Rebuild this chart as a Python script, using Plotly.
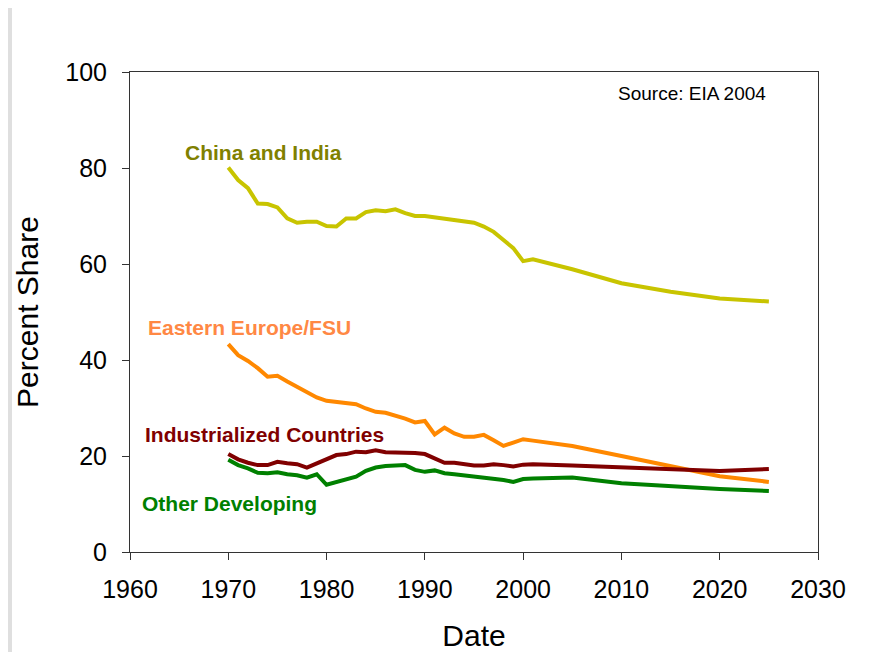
import plotly.graph_objects as go

# share of world coal consumption by region, history + projection
years = [1970, 1971, 1972, 1973, 1974, 1975, 1976, 1977, 1978, 1979,
         1980, 1981, 1982, 1983, 1984, 1985, 1986, 1987, 1988, 1989,
         1990, 1991, 1992, 1993, 1994, 1995, 1996, 1997, 1998, 1999,
         2000, 2001, 2005, 2010, 2015, 2020, 2025]

china_india = [80.1, 77.5, 75.8, 72.6, 72.5, 71.8, 69.5, 68.6, 68.8, 68.8,
               67.9, 67.8, 69.5, 69.5, 70.8, 71.2, 71.0, 71.4, 70.6, 70.0,
               70.0, 69.7, 69.5, 69.0, 68.8, 68.6, 67.8, 66.7, 65.0, 63.3,
               60.6, 61.0, 58.9, 56.0, 54.2, 52.8, 52.2]

eastern_europe = [43.3, 41.0, 39.8, 38.3, 36.5, 36.7, 35.5, 34.4, 33.1, 32.2,
                  31.5, 31.3, 31.1, 30.8, 29.9, 29.2, 29.0, 28.5, 27.8, 27.0,
                  27.3, 24.5, 25.9, 24.7, 24.0, 24.0, 24.4, 23.3, 22.1, 22.8,
                  23.5, 23.2, 22.1, 20.0, 17.8, 15.8, 14.6]

industrialized = [20.4, 19.3, 18.6, 18.1, 18.1, 18.8, 18.5, 18.3, 17.6, 18.5,
                  19.4, 20.2, 20.4, 20.9, 20.8, 21.2, 20.8, 20.8, 20.6, 20.6,
                  20.4, 19.5, 18.6, 18.6, 18.3, 18.0, 18.0, 18.3, 18.1, 17.8,
                  18.2, 18.3, 18.0, 17.6, 17.1, 16.9, 17.3]

other_developing = [19.2, 18.1, 17.4, 16.5, 16.4, 16.6, 16.2, 16.0, 15.5, 16.2,
                    14.0, 14.6, 15.2, 15.7, 16.9, 17.6, 17.9, 17.9, 18.1, 17.1,
                    16.7, 17.0, 16.4, 16.2, 16.0, 15.8, 15.5, 15.2, 15.0, 14.6,
                    15.2, 15.3, 15.5, 14.3, 13.6, 13.1, 12.7]

series = [
    ("China and India", china_india, "#C8C400", "#808000", 1965.4, 83.3),
    ("Eastern Europe/FSU", eastern_europe, "#FF8800", "#FF8844", 1961.6, 46.7),
    ("Industrialized Countries", industrialized, "#800000", "#800000", 1961.3, 24.4),
    ("Other Developing", other_developing, "#008000", "#008000", 1961.0, 10.2),
]

FONT = "Arial, Liberation Sans, sans-serif"

fig = go.Figure()
for name, vals, line_col, label_col, lx, ly in series:
    fig.add_trace(go.Scatter(x=years, y=vals, mode="lines", name=name,
                             line=dict(color=line_col, width=4)))
    fig.add_annotation(x=lx, y=ly, text="<b>%s</b>" % name, showarrow=False,
                       xanchor="left", yanchor="middle",
                       font=dict(family=FONT, size=21, color=label_col))

fig.add_annotation(x=2009.4, y=95.6, text="Source: EIA 2004", showarrow=False,
                   xanchor="left", yanchor="middle",
                   font=dict(family=FONT, size=19, color="black"))

# grey strip at the left edge of the slide (page has an 8px body margin)
fig.add_shape(type="rect", xref="paper", yref="paper",
              x0=-122 / 688, x1=(4 - 122) / 688, y0=-100 / 480, y1=1 + 64 / 480,
              fillcolor="#DFDFDF", line=dict(width=0), layer="below")

axis_style = dict(showline=True, linecolor="#333333", linewidth=1, mirror=True,
                  ticks="outside", ticklen=7, tickcolor="#333333",
                  showgrid=False, zeroline=False,
                  tickfont=dict(family=FONT, size=25, color="black"))

fig.update_xaxes(range=[1960, 2030], dtick=10, ticklabelstandoff=8,
                 title=dict(text="Date", standoff=22,
                            font=dict(family=FONT, size=30, color="black")),
                 **axis_style)
fig.update_yaxes(range=[0, 100], dtick=20, ticklabelstandoff=10,
                 title=dict(text="Percent Share", standoff=17,
                            font=dict(family=FONT, size=30, color="black")),
                 **axis_style)

fig.update_layout(width=870, height=644, showlegend=False,
                  margin=dict(l=122, r=60, t=64, b=100, autoexpand=False),
                  paper_bgcolor="white", plot_bgcolor="white",
                  font=dict(family=FONT))

fig.write_html("out.html")
